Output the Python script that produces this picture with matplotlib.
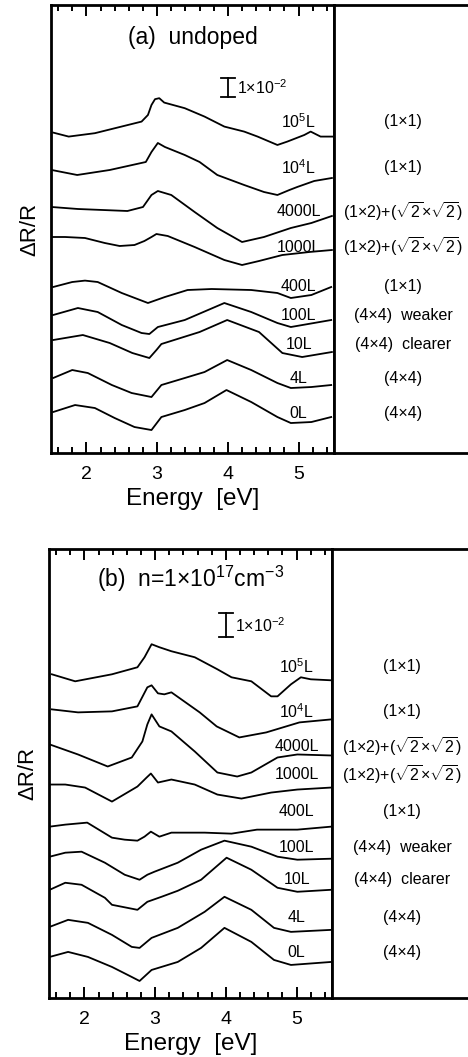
"""RAS spectra vs. exposure: (a) undoped, (b) n=1e17 cm^-3."""
import matplotlib
matplotlib.use("Agg")
import matplotlib.pyplot as plt
from matplotlib.ticker import MultipleLocator

plt.rcParams["font.family"] = ["Liberation Sans", "DejaVu Sans"]
plt.rcParams["mathtext.fontset"] = "custom"
plt.rcParams["mathtext.rm"] = "Liberation Sans"
plt.rcParams["mathtext.it"] = "Liberation Sans:italic"

# ---- data: traces, dR/R in units of 1e-2 (offset included)
doses = ["10$^5$L", "10$^4$L", "4000L", "1000L", "400L", "100L", "10L", "4L", "0L"]
structures = ["(1×1)", "(1×1)", r"(1×2)+($\sqrt{2}$×$\sqrt{2}$)", r"(1×2)+($\sqrt{2}$×$\sqrt{2}$)",
              "(1×1)", "(4×4)  weaker", "(4×4)  clearer", "(4×4)", "(4×4)"]

A_E_1e5 = [1.53, 1.75, 2.12, 2.78, 2.87, 2.92, 2.97, 3.03, 3.10, 3.39, 3.67, 3.95, 4.23, 4.42, 4.70, 4.84, 5.08, 5.17, 5.31, 5.48]
A_R_1e5 = [16.02, 15.82, 15.99, 16.57, 16.9, 17.4, 17.69, 17.74, 17.52, 17.24, 16.82, 16.32, 16.07, 15.82, 15.4, 15.57, 15.9, 16.07, 15.82, 15.82]
A_E_1e4 = [1.51, 1.87, 2.33, 2.84, 2.92, 3.01, 3.11, 3.39, 3.60, 3.85, 4.23, 4.51, 4.70, 4.87, 4.98, 5.22, 5.47]
A_R_1e4 = [14.15, 13.9, 14.15, 14.55, 15.05, 15.5, 15.3, 14.9, 14.55, 13.9, 13.4, 13.05, 12.9, 13.15, 13.3, 13.6, 13.75]
A_E_4000 = [1.51, 1.88, 2.58, 2.80, 2.92, 3.01, 3.20, 3.53, 3.85, 4.20, 4.51, 4.89, 5.18, 5.47]
A_R_4000 = [12.3, 12.2, 12.1, 12.3, 12.9, 13.1, 12.9, 12.05, 11.25, 10.55, 10.8, 11.25, 11.5, 11.85]
A_E_1000 = [1.51, 1.70, 1.98, 2.26, 2.47, 2.68, 2.82, 2.92, 2.99, 3.15, 3.53, 3.95, 4.20, 4.44, 4.77, 5.15, 5.47]
A_R_1000 = [10.8, 10.8, 10.75, 10.5, 10.35, 10.4, 10.6, 10.8, 10.95, 10.85, 10.3, 9.65, 9.4, 9.6, 9.9, 10.05, 10.15]
A_E_400 = [1.53, 1.80, 1.98, 2.16, 2.50, 2.87, 3.11, 3.43, 3.77, 4.33, 4.70, 4.89, 5.18, 5.46]
A_R_400 = [8.3, 8.55, 8.62, 8.55, 8.0, 7.5, 7.8, 8.15, 8.2, 8.15, 8.0, 7.75, 7.9, 8.3]
A_E_100 = [1.53, 1.88, 2.16, 2.50, 2.78, 2.89, 3.01, 3.39, 3.95, 4.33, 4.70, 4.89, 5.46]
A_R_100 = [6.9, 7.25, 7.05, 6.4, 6.0, 5.95, 6.3, 6.65, 7.5, 7.05, 6.5, 6.3, 6.65]
A_E_10 = [1.53, 1.95, 2.33, 2.65, 2.89, 2.99, 3.06, 3.60, 3.99, 4.44, 4.77, 5.05, 5.47]
A_R_10 = [5.65, 5.9, 5.5, 5.0, 4.75, 5.15, 5.45, 6.05, 6.65, 6.05, 5.0, 4.8, 5.05]
A_E_4 = [1.53, 1.80, 2.02, 2.36, 2.64, 2.92, 3.06, 3.39, 3.67, 3.99, 4.33, 4.70, 4.89, 5.18, 5.46]
A_R_4 = [3.75, 4.15, 4.0, 3.4, 3.0, 2.8, 3.4, 3.75, 4.05, 4.65, 4.15, 3.5, 3.25, 3.3, 3.4]
A_E_0 = [1.53, 1.84, 2.12, 2.40, 2.68, 2.92, 3.06, 3.39, 3.67, 3.98, 4.33, 4.70, 4.89, 5.18, 5.46]
A_R_0 = [2.05, 2.4, 2.25, 1.75, 1.3, 1.15, 1.8, 2.15, 2.5, 3.15, 2.55, 1.8, 1.5, 1.55, 1.8]

B_E_1e5 = [1.54, 1.87, 2.39, 2.75, 2.85, 2.95, 3.06, 3.23, 3.56, 3.88, 4.08, 4.36, 4.64, 4.73, 4.92, 5.06, 5.20, 5.49]
B_R_1e5 = [16.15, 15.8, 16.15, 16.5, 17.0, 17.65, 17.5, 17.3, 17.0, 16.4, 16.0, 15.8, 15.05, 15.05, 15.65, 16.0, 15.9, 15.85]
B_E_1e4 = [1.54, 1.91, 2.39, 2.75, 2.89, 2.95, 3.04, 3.13, 3.23, 3.63, 3.87, 4.19, 4.57, 5.04, 5.49]
B_R_1e4 = [14.4, 14.25, 14.3, 14.55, 15.5, 15.6, 15.2, 15.15, 15.25, 14.25, 13.55, 13.0, 13.25, 13.75, 13.9]
B_E_4000 = [1.51, 1.91, 2.33, 2.67, 2.82, 2.89, 2.95, 3.06, 3.23, 3.56, 3.88, 4.16, 4.36, 4.73, 5.01, 5.49]
B_R_4000 = [12.65, 12.15, 11.55, 12.0, 12.8, 13.65, 14.15, 13.55, 13.3, 12.3, 11.25, 11.05, 11.25, 12.0, 12.15, 12.1]
B_E_1000 = [1.51, 1.73, 2.01, 2.39, 2.75, 2.88, 2.94, 3.04, 3.23, 3.56, 3.88, 4.22, 4.64, 5.01, 5.49]
B_R_1000 = [10.65, 10.65, 10.5, 9.8, 10.55, 11.0, 11.2, 10.75, 10.9, 10.65, 10.15, 9.95, 10.25, 10.4, 10.5]
B_E_400 = [1.51, 1.73, 2.04, 2.11, 2.39, 2.57, 2.75, 2.85, 2.94, 3.06, 3.23, 3.70, 4.08, 4.44, 5.01, 5.49]
B_R_400 = [8.55, 8.65, 8.75, 8.6, 8.0, 7.9, 7.85, 8.05, 8.3, 8.05, 8.25, 8.25, 8.2, 8.4, 8.4, 8.55]
B_E_100 = [1.51, 1.73, 1.96, 2.29, 2.57, 2.78, 2.89, 2.99, 3.32, 3.65, 3.98, 4.36, 4.73, 5.01, 5.49]
B_R_100 = [7.05, 7.25, 7.3, 6.75, 6.15, 5.9, 6.15, 6.3, 6.75, 7.4, 7.85, 7.55, 7.05, 6.9, 6.95]
B_E_10 = [1.51, 1.73, 1.96, 2.29, 2.39, 2.75, 2.89, 3.09, 3.32, 3.65, 4.01, 4.36, 4.73, 5.01, 5.49]
B_R_10 = [5.4, 5.75, 5.65, 5.0, 4.65, 4.4, 4.8, 5.05, 5.35, 5.9, 7.0, 6.4, 5.5, 5.3, 5.4]
B_E_4 = [1.51, 1.77, 2.05, 2.39, 2.67, 2.78, 2.95, 3.32, 3.70, 3.98, 4.36, 4.68, 4.92, 5.49]
B_R_4 = [3.55, 3.9, 3.75, 3.15, 2.55, 2.5, 3.0, 3.5, 4.3, 5.05, 4.4, 3.5, 3.3, 3.4]
B_E_0 = [1.51, 1.77, 2.05, 2.39, 2.67, 2.78, 2.95, 3.32, 3.65, 3.98, 4.36, 4.68, 4.92, 5.49]
B_R_0 = [2.05, 2.3, 2.05, 1.55, 1.05, 0.85, 1.4, 1.8, 2.5, 3.5, 2.8, 1.9, 1.65, 1.8]

A_CURVES = [(A_E_1e5, A_R_1e5), (A_E_1e4, A_R_1e4), (A_E_4000, A_R_4000), (A_E_1000, A_R_1000),
            (A_E_400, A_R_400), (A_E_100, A_R_100), (A_E_10, A_R_10), (A_E_4, A_R_4), (A_E_0, A_R_0)]
B_CURVES = [(B_E_1e5, B_R_1e5), (B_E_1e4, B_R_1e4), (B_E_4000, B_R_4000), (B_E_1000, B_R_1000),
            (B_E_400, B_R_400), (B_E_100, B_R_100), (B_E_10, B_R_10), (B_E_4, B_R_4), (B_E_0, B_R_0)]

# label heights (layout)
A_LAB_Y = [16.55, 14.25, 12.05, 10.3, 8.35, 6.9, 5.45, 3.75, 2.0]
B_LAB_Y = [16.55, 14.3, 12.55, 11.15, 9.3, 7.5, 5.9, 4.0, 2.25]

YMAX = 22.4
LW_AX = 2.0
FS_LAB = 11.5


def draw_panel(fig, rect, rect_r, curves, lab_y, title, title_y, bar):
    ax = fig.add_axes(rect)
    for e, r in curves:
        ax.plot(e, r, color="black", lw=1.3)
    ax.set_xlim(1.5, 5.5); ax.set_ylim(0, YMAX)
    ax.set_yticks([])
    ax.xaxis.set_major_locator(MultipleLocator(1))
    ax.xaxis.set_minor_locator(MultipleLocator(0.2))
    ax.tick_params(axis="x", which="both", direction="in", top=True, width=1.4, labelsize=14, pad=9)
    ax.tick_params(axis="x", which="major", length=8)
    ax.tick_params(axis="x", which="minor", length=4)
    for s in ax.spines.values():
        s.set_linewidth(LW_AX)
    ax.set_xlabel("Energy  [eV]", fontsize=17.5, labelpad=4)
    ax.set_ylabel("ΔR/R", fontsize=16, labelpad=8)
    ax.text(3.5, title_y, title, fontsize=16.5, ha="center", va="center")
    # scale bar
    y0, y1 = bar
    ax.plot([4.0, 4.0], [y0, y1], color="black", lw=1.3)
    ax.plot([3.9, 4.1], [y0, y0], color="black", lw=1.3)
    ax.plot([3.9, 4.1], [y1, y1], color="black", lw=1.3)
    ax.text(4.13, (y0 + y1) / 2, "1×10$^{-2}$", fontsize=FS_LAB, ha="left", va="center")
    for lab, y in zip(doses, lab_y):
        ax.text(5.0, y, lab, fontsize=FS_LAB, ha="center", va="center")

    axr = fig.add_axes(rect_r)
    axr.set_xlim(0, 1); axr.set_ylim(0, YMAX)
    axr.set_xticks([]); axr.set_yticks([])
    axr.spines["right"].set_visible(False)
    for s in ("top", "bottom", "left"):
        axr.spines[s].set_linewidth(LW_AX)
    for lab, y in zip(structures, lab_y):
        axr.text(0.515, y, lab, fontsize=FS_LAB, ha="center", va="center")
    return ax


fig = plt.figure(figsize=(4.68, 10.57), dpi=100)
draw_panel(fig, [0.109, 0.5714, 0.6047, 0.4239], [0.7137, 0.5714, 0.2863, 0.4239],
           A_CURVES, A_LAB_Y, "(a)  undoped", 20.75, (17.8, 18.75))
draw_panel(fig, [0.1047, 0.0558, 0.6047, 0.4248], [0.7094, 0.0558, 0.2906, 0.4248],
           B_CURVES, B_LAB_Y, "(b)  n=1×10$^{17}$cm$^{-3}$", 20.9, (18.0, 19.2))
fig.savefig("out.png", dpi=100)
plt.close(fig)
